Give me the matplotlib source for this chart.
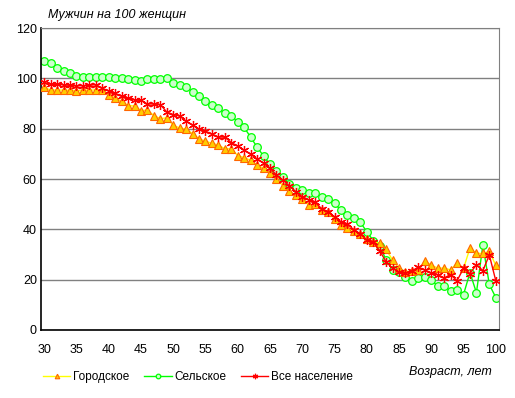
import numpy as np
import matplotlib
matplotlib.use("Agg")
import matplotlib.pyplot as plt

plt.rcParams['font.family'] = ['Liberation Sans', 'DejaVu Sans']

# возраст, лет
ages = np.arange(30, 101)

# мужчин на 100 женщин
urban = [96.4, 95.3, 95.4, 95.3, 95.2, 95.0, 95.2, 95.3, 95.4, 95.5,
         93.4, 92.2, 90.8, 89.2, 89.0, 87.2, 87.4, 85.2, 84.0, 84.3,
         81.3, 80.3, 79.8, 78.0, 76.0, 75.0, 74.2, 73.5, 72.0, 72.0,
         69.3, 68.5, 67.4, 65.4, 64.2, 62.3, 60.0, 57.4, 55.2, 53.5,
         52.0, 49.7, 50.0, 47.7, 46.8, 44.2, 41.8, 40.4, 39.4, 38.3,
         36.2, 34.8, 34.6, 32.0, 27.8, 24.5, 23.2, 23.4, 23.9, 27.4,
         25.8, 24.6, 24.6, 23.9, 26.6, 24.5, 32.5, 30.5, 30.4, 31.2,
         25.7]
rural = [107.0, 106.0, 104.3, 103.0, 102.2, 101.0, 100.4, 100.4, 100.5, 100.4,
         100.5, 100.3, 100.0, 99.8, 99.4, 99.0, 99.8, 99.8, 99.9, 100.2,
         98.2, 97.2, 96.7, 94.7, 92.9, 90.8, 89.4, 88.2, 86.1, 85.0,
         82.8, 80.5, 76.6, 72.7, 69.1, 65.8, 63.0, 60.7, 58.2, 56.5,
         55.5, 54.3, 54.5, 53.0, 52.0, 50.3, 47.6, 45.7, 44.5, 42.8,
         39.1, 35.5, 33.5, 27.8, 24.0, 23.1, 21.2, 19.5, 20.8, 20.9,
         19.9, 17.5, 17.3, 15.6, 15.9, 14.1, 22.8, 14.8, 33.7, 18.1,
         12.9]
total = [98.4, 97.6, 97.6, 97.4, 97.2, 97.0, 97.1, 97.2, 97.5, 96.0,
         95.0, 94.0, 92.8, 92.2, 91.4, 91.2, 89.8, 89.8, 89.6, 86.6,
         85.6, 85.0, 83.0, 81.3, 79.9, 79.0, 77.8, 76.7, 76.6, 74.5,
         73.0, 71.5, 69.8, 68.0, 66.3, 64.3, 61.6, 59.6, 57.3, 55.0,
         53.0, 51.8, 50.8, 48.2, 47.0, 45.0, 43.0, 42.2, 39.8, 38.2,
         35.8, 35.0, 31.5, 27.1, 24.5, 23.0, 22.5, 23.5, 25.0, 23.8,
         22.7, 22.0, 20.7, 22.0, 19.6, 24.5, 22.4, 26.0, 23.6, 29.8,
         19.6]

labels = ['Городское', 'Сельское', 'Все население']
xticks = np.arange(30, 101, 5)
yticks = np.arange(0, 121, 20)

fig = plt.figure(figsize=(5.15, 3.98), dpi=100)
ax = fig.add_axes([41/515, 1 - 330/398, 458/515, 302/398])

ax.plot(ages, urban, color='#FFFF00', lw=1, marker='^', ms=5.5,
        mfc='#FFCC00', mec='#FF6600', mew=0.8, label=labels[0], zorder=3)
ax.plot(ages, rural, color='#00FF00', lw=1, marker='o', ms=5.5,
        mfc='#CCFFCC', mec='#00FF00', mew=0.9, label=labels[1], zorder=2)
ax.plot(ages, total, color='#FF0000', lw=1, marker=(6, 2, 0), ms=6.5,
        mec='#FF0000', mew=0.9, label=labels[2], zorder=4)

ax.set_xlim(29.5, 100.5)
ax.set_ylim(0, 120)
ax.set_xticks(xticks)
ax.set_yticks(yticks)
ax.tick_params(length=0, labelsize=9)
ax.tick_params(axis='x', pad=10)
ax.tick_params(axis='y', pad=3)
ax.yaxis.grid(True, color='#808080', lw=1)
ax.set_axisbelow(True)
for s in ['top', 'right']:
    ax.spines[s].set_color('#808080')
for s in ['left', 'bottom']:
    ax.spines[s].set_color('black')
    ax.spines[s].set_linewidth(1.2)

fig.text(48/515, 1 - 15/398, 'Мужчин на 100 женщин', style='italic',
         fontsize=9, ha='left', va='center')
fig.text(492/515, 1 - 372/398, 'Возраст, лет', style='italic',
         fontsize=9, ha='right', va='center')

ax.legend(loc='center', bbox_to_anchor=(198/515, 1 - 377/398),
          bbox_transform=fig.transFigure, ncol=3, frameon=False,
          fontsize=8.5, markerscale=0.6, handlelength=2.3,
          handletextpad=0.2, columnspacing=1.3, borderaxespad=0)

fig.savefig('out.png', dpi=100)
